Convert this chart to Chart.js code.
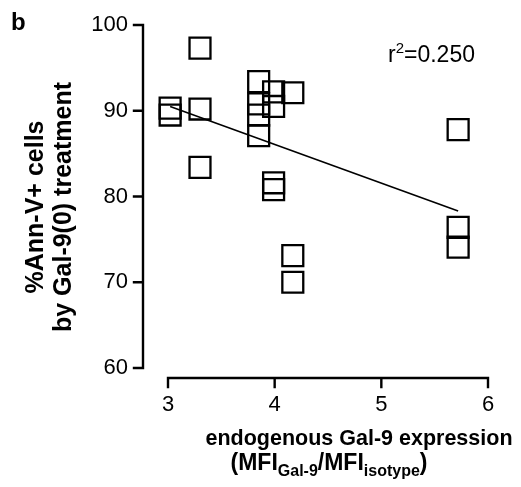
<!DOCTYPE html>
<html>
<head>
<meta charset="utf-8">
<script src="https://cdn.jsdelivr.net/npm/chart.js@4"></script>
<style>
  html, body { margin: 0; padding: 0; background: #fff; }
  #wrap { width: 521px; height: 487px; }
</style>
</head>
<body>
<div id="wrap"><canvas id="myChart" width="521" height="487"></canvas></div>
<script>
// values
const expression = [3.02, 3.02, 3.30, 3.30, 3.30, 3.85, 3.85, 3.85, 3.85, 3.99, 3.99, 3.99, 3.99, 4.17, 4.17, 4.17, 5.72, 5.72, 5.72];
const annexinPct = [90.3, 89.5, 97.3, 90.2, 83.4, 93.4, 90.8, 89.5, 87.1, 92.2, 90.5, 81.6, 80.8, 92.1, 73.1, 70.0, 87.8, 76.4, 74.1];
const fitX = [3.02, 5.72];
const fitY = [90.5, 78.3];
const xTicks = [3, 4, 5, 6];
const yTicks = [60, 70, 80, 90, 100];
const rSquared = '0.250';

const font = "'Liberation Sans', Arial, sans-serif";

// prism style offset axes + the text bits chart.js can't do (subscripts etc)
const prismAxes = {
  id: 'prismAxes',
  afterDraw(chart) {
    const c = chart.ctx;
    const x = chart.scales.x, y = chart.scales.y;
    const ax = chart.chartArea.left - 25;
    const ay = chart.chartArea.bottom + 10;
    c.save();
    c.strokeStyle = '#000';
    c.lineWidth = 2.4;
    c.lineCap = 'square';
    c.beginPath();
    c.moveTo(ax, y.getPixelForValue(yTicks[0]));
    c.lineTo(ax, y.getPixelForValue(yTicks[yTicks.length - 1]));
    yTicks.forEach(v => {
      const p = y.getPixelForValue(v);
      c.moveTo(ax - 9, p); c.lineTo(ax, p);
    });
    c.moveTo(x.getPixelForValue(xTicks[0]), ay);
    c.lineTo(x.getPixelForValue(xTicks[xTicks.length - 1]), ay);
    xTicks.forEach(v => {
      const p = x.getPixelForValue(v);
      c.moveTo(p, ay); c.lineTo(p, ay + 9);
    });
    c.stroke();

    c.fillStyle = '#000';
    // panel letter
    c.font = 'bold 24px ' + font;
    c.textAlign = 'left';
    c.textBaseline = 'alphabetic';
    c.fillText('b', 11, 30);

    // r squared
    c.font = '23px ' + font;
    c.fillText('r', 388, 62);
    let w = c.measureText('r').width;
    c.font = '15px ' + font;
    c.fillText('2', 388 + w, 53);
    w += c.measureText('2').width;
    c.font = '23px ' + font;
    c.fillText('=' + rSquared, 388 + w, 62);

    // y title
    c.save();
    c.translate(43, 207);
    c.rotate(-Math.PI / 2);
    c.textAlign = 'center';
    c.font = 'bold 25px ' + font;
    c.fillText('%Ann-V+ cells', 0, 0);
    c.fillText('by Gal-9(0) treatment', 0, 28);
    c.restore();

    // x title line 1
    c.textAlign = 'center';
    c.font = 'bold 21.5px ' + font;
    c.fillText('endogenous Gal-9 expression', 359, 445);

    // x title line 2 with subscripts
    const parts = [['(MFI', false], ['Gal-9', true], ['/MFI', false], ['isotype', true], [')', false]];
    const big = 'bold 23px ' + font, small = 'bold 16px ' + font;
    let total = 0;
    parts.forEach(p => { c.font = p[1] ? small : big; total += c.measureText(p[0]).width; });
    let px = 329 - total / 2;
    c.textAlign = 'left';
    parts.forEach(p => {
      c.font = p[1] ? small : big;
      c.fillText(p[0], px, p[1] ? 476 : 470);
      px += c.measureText(p[0]).width;
    });
    c.restore();
  }
};

const ctx = document.getElementById('myChart').getContext('2d');
const myChart = new Chart(ctx, {
  type: 'scatter',
  data: {
    datasets: [{
      label: 'cells',
      data: expression.map((v, i) => ({ x: v, y: annexinPct[i] })),
      pointStyle: 'rect',
      pointRadius: 14.8,
      pointBorderWidth: 2.3,
      pointBorderColor: '#000',
      pointBackgroundColor: 'rgba(0,0,0,0)',
      clip: false
    }, {
      label: 'fit',
      type: 'line',
      data: fitX.map((v, i) => ({ x: v, y: fitY[i] })),
      borderColor: '#000',
      borderWidth: 1.6,
      pointRadius: 0,
      fill: false,
      clip: false
    }]
  },
  options: {
    responsive: false,
    animation: false,
    events: [],
    layout: { padding: { left: 0, right: 33, top: 25, bottom: 0 } },
    plugins: { legend: { display: false }, tooltip: { enabled: false } },
    scales: {
      x: {
        type: 'linear',
        min: 3,
        max: 6,
        afterFit: s => { s.height = 119; },
        afterBuildTicks: s => { s.ticks = xTicks.map(v => ({ value: v })); },
        // invisible tick marks just push the labels down, real axis is drawn by the plugin
        grid: { display: true, drawOnChartArea: false, tickLength: 22, tickColor: 'rgba(0,0,0,0)' },
        border: { display: false },
        ticks: { padding: 2, color: '#000', font: { family: font, size: 22 } }
      },
      y: {
        min: 60,
        max: 100,
        afterFit: s => { s.width = 168; },
        afterBuildTicks: s => { s.ticks = yTicks.map(v => ({ value: v })); },
        grid: { display: true, drawOnChartArea: false, tickLength: 35, tickColor: 'rgba(0,0,0,0)' },
        border: { display: false },
        ticks: { padding: 5, color: '#000', font: { family: font, size: 22 } }
      }
    }
  },
  plugins: [prismAxes]
});
</script>
</body>
</html>
